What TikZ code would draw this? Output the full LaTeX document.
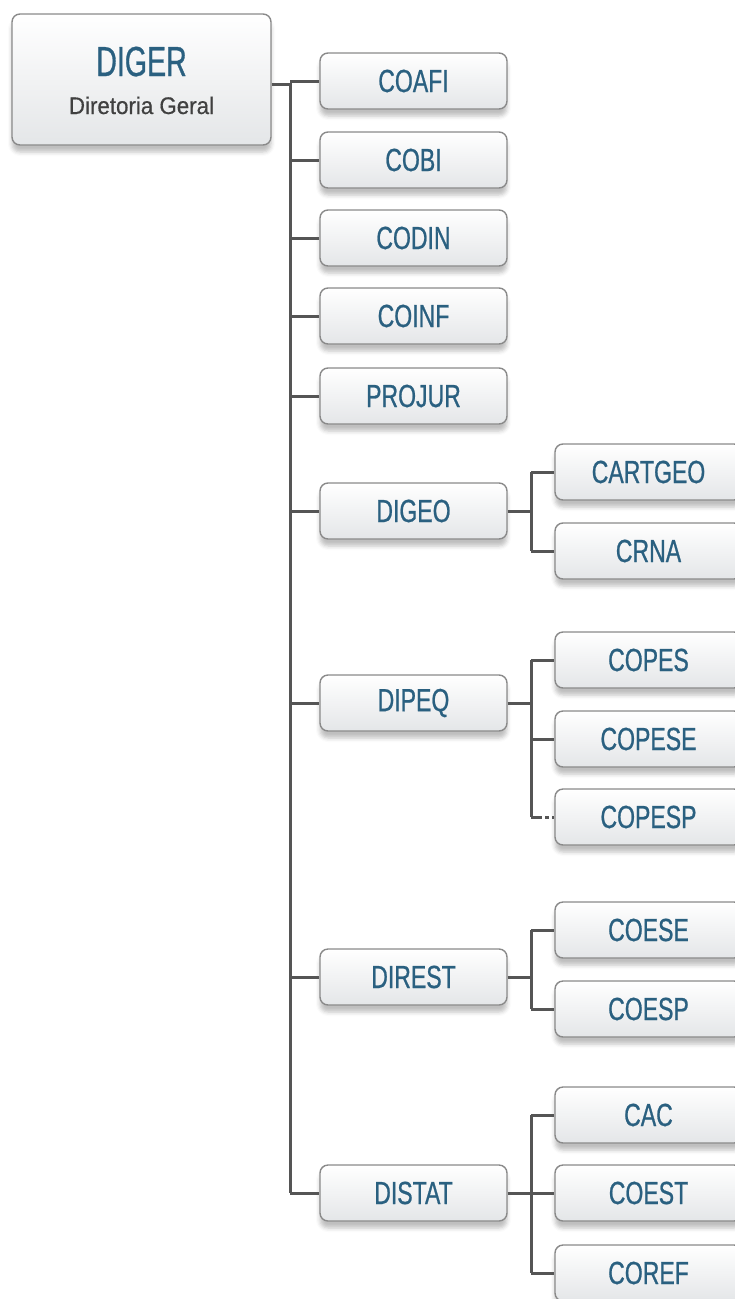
\documentclass[tikz,border=0pt]{standalone}
\usepackage{fontspec}
\setmainfont{Liberation Sans}
\newfontfamily\boxfont{Liberation Sans}[FakeStretch=0.72, FakeBold=0.7]
\newfontfamily\titlefont{Liberation Sans}[FakeStretch=0.68, FakeBold=0.7]
\newfontfamily\subfont{Liberation Sans}[FakeStretch=0.93, FakeBold=0.5]
\usetikzlibrary{shadows.blur}
\definecolor{labelblue}{HTML}{2A6080}
\definecolor{subgray}{HTML}{404040}
\definecolor{framegray}{HTML}{8A8A8A}
\definecolor{linkgray}{HTML}{555555}
\definecolor{boxbottom}{HTML}{E4E6E8}
\tikzset{
  unitbox/.style={draw=framegray, line width=1.4pt, rounded corners=8pt,
    top color=white, bottom color=boxbottom,
    minimum width=187pt, minimum height=56pt, inner sep=0pt,
    blur shadow={shadow xshift=0pt, shadow yshift=-7pt,
      shadow blur radius=4pt, shadow opacity=25},
    font=\boxfont\fontsize{32}{34}\selectfont, text=labelblue},
  link/.style={draw=linkgray, line width=3pt},
}
\begin{document}
\begin{tikzpicture}[x=1pt, y=-1pt]
\useasboundingbox (0,0) rectangle (735,1299);
\clip (0,0) rectangle (735,1299);

% head office
\node[unitbox, minimum width=259pt, minimum height=131pt] (diger) at (141.5,79.5) {};
\node[anchor=base, text=labelblue, font=\titlefont\fontsize{42}{44}\selectfont, inner sep=0pt]
  (digertitle) at (141.5,76) {DIGER};
\node[anchor=base, text=subgray, font=\subfont\fontsize{24}{26}\selectfont, inner sep=0pt]
  (digersub) at (141.5,114) {Diretoria Geral};

% first level
\node[unitbox] (coafi)  at (413.5,81)   {COAFI};
\node[unitbox] (cobi)   at (413.5,160)  {COBI};
\node[unitbox] (codin)  at (413.5,238)  {CODIN};
\node[unitbox] (coinf)  at (413.5,316)  {COINF};
\node[unitbox] (projur) at (413.5,396)  {PROJUR};
\node[unitbox] (digeo)  at (413.5,511)  {DIGEO};
\node[unitbox] (dipeq)  at (413.5,703)  {DIPEQ};
\node[unitbox] (direst) at (413.5,977)  {DIREST};
\node[unitbox] (distat) at (413.5,1193) {DISTAT};

% second level
\node[unitbox] (cartgeo) at (648.5,472)  {CARTGEO};
\node[unitbox] (crna)    at (648.5,551)  {CRNA};
\node[unitbox] (copes)   at (648.5,660)  {COPES};
\node[unitbox] (copese)  at (648.5,739)  {COPESE};
\node[unitbox] (copesp)  at (648.5,817)  {COPESP};
\node[unitbox] (coese)   at (648.5,930)  {COESE};
\node[unitbox] (coesp)   at (648.5,1009) {COESP};
\node[unitbox] (cac)     at (648.5,1115) {CAC};
\node[unitbox] (coest)   at (648.5,1193) {COEST};
\node[unitbox] (coref)   at (648.5,1273) {COREF};

% main trunk
\coordinate (trunk) at (290,84);
\draw[link] (diger.east |- trunk) -- (trunk) -- (trunk |- distat.west);
\foreach \n in {coafi,cobi,codin,coinf,projur,digeo,dipeq,direst,distat}
  \draw[link] (trunk |- \n.west) -- (\n.west);

% branch trunks
\coordinate (branch) at (531,0);
\draw[link] (digeo.east) -- (branch |- digeo.east);
\draw[link] (branch |- cartgeo.west) -- (branch |- crna.west);
\foreach \n in {cartgeo,crna} \draw[link] (branch |- \n.west) -- (\n.west);

\draw[link] (dipeq.east) -- (branch |- dipeq.east);
\draw[link] (branch |- copes.west) -- (branch |- copesp.west);
\foreach \n in {copes,copese} \draw[link] (branch |- \n.west) -- (\n.west);
\draw[link] (branch |- copesp.west) -- ++(7,0) coordinate (dotstart);
\draw[link, dash pattern=on 4pt off 3pt] (dotstart) -- (copesp.west);

\draw[link] (direst.east) -- (branch |- direst.east);
\draw[link] (branch |- coese.west) -- (branch |- coesp.west);
\foreach \n in {coese,coesp} \draw[link] (branch |- \n.west) -- (\n.west);

\draw[link] (distat.east) -- (branch |- distat.east);
\draw[link] (branch |- cac.west) -- (branch |- coref.west);
\foreach \n in {cac,coest,coref} \draw[link] (branch |- \n.west) -- (\n.west);
\end{tikzpicture}
\end{document}
